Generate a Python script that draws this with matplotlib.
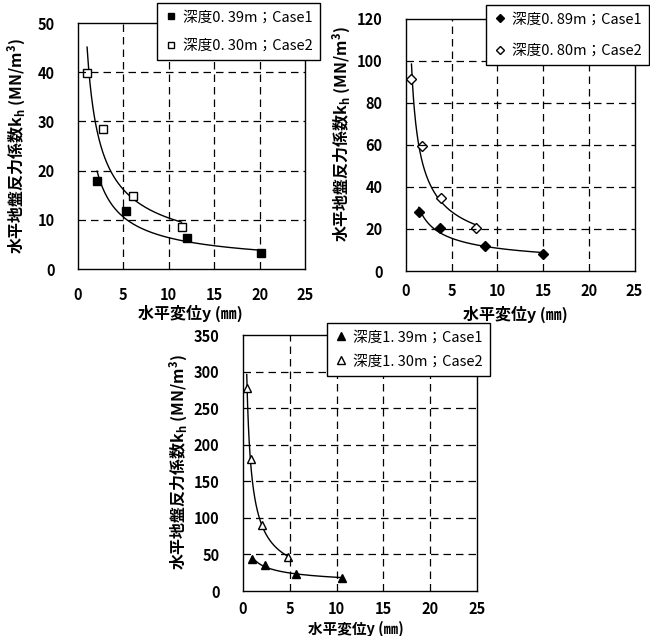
import numpy as np
import matplotlib
matplotlib.use("Agg")
import matplotlib.pyplot as plt

plt.rcParams['font.family'] = ['Noto Sans CJK JP', 'DejaVu Sans']
plt.rcParams['mathtext.fontset'] = 'custom'
plt.rcParams['mathtext.rm'] = 'Noto Sans CJK JP'

# depth ~0.3-0.4 m
tl_c1_x = [2.1, 5.3, 12.0, 20.2]
tl_c1_y = [17.8, 11.7, 6.2, 3.3]
tl_c2_x = [1.0, 2.8, 6.1, 11.4]
tl_c2_y = [39.8, 28.5, 14.8, 8.5]

# depth ~0.8-0.9 m
tr_c1_x = [1.4, 3.7, 8.6, 15.0]
tr_c1_y = [28.2, 20.5, 11.8, 8.3]
tr_c2_x = [0.6, 1.7, 3.8, 7.7]
tr_c2_y = [91.3, 59.2, 34.5, 20.3]

# depth ~1.3-1.4 m
bt_c1_x = [1.0, 2.3, 5.7, 10.6]
bt_c1_y = [44, 36, 23.6, 17.7]
bt_c2_x = [0.4, 0.9, 2.0, 4.8]
bt_c2_y = [277, 180, 90, 46]

W, H = 650, 636
fig = plt.figure(figsize=(W / 100, H / 100), dpi=100)


def px_axes(l, t, r, b):
    return fig.add_axes([l / W, 1 - b / H, (r - l) / W, (b - t) / H])


def power_fit(x, y):
    # Excel-style power trendline
    b, ln_a = np.polyfit(np.log(x), np.log(y), 1)
    xs = np.linspace(min(x), max(x), 200)
    return xs, np.exp(ln_a) * xs ** b


def draw_panel(ax, c1, c2, marker, ms, labels, ymax, ystep, leg_anchor,
               lspace, xpad):
    for (x, y), filled, lab in zip([c1, c2], [True, False], labels):
        xs, ys = power_fit(x, y)
        ax.plot(xs, ys, color='black', lw=1.0)
        ax.plot(x, y, linestyle='none', marker=marker, ms=ms,
                mfc='black' if filled else 'white', mec='black', mew=1.0,
                label=lab)
    ax.set_xlim(0, 25)
    ax.set_ylim(0, ymax)
    ax.set_xticks(range(0, 26, 5))
    ax.set_yticks(range(0, ymax + 1, ystep))
    for v in range(5, 25, 5):
        ax.axvline(v, color='black', lw=0.9, ls=(0, (6, 4)))
    for v in range(ystep, ymax, ystep):
        ax.axhline(v, color='black', lw=0.9, ls=(0, (6, 4)))
    ax.tick_params(length=0, labelsize=10.5)
    ax.tick_params(axis='x', pad=xpad)
    ax.tick_params(axis='y', pad=17)
    for t in ax.get_xticklabels() + ax.get_yticklabels():
        t.set_fontweight('bold')
    for s in ax.spines.values():
        s.set_linewidth(1.0)
    leg = ax.legend(loc='upper right', bbox_to_anchor=leg_anchor,
                    bbox_transform=fig.transFigure, fontsize=10.5,
                    frameon=True, fancybox=False, edgecolor='black',
                    framealpha=1, handletextpad=0.3, handlelength=1.0,
                    borderpad=0.5, labelspacing=lspace, markerscale=0.85,
                    borderaxespad=0)
    leg.get_frame().set_linewidth(1.0)


xlabel = '水平変位y (㎜)'
ylabel = '水平地盤反力係数k$_\\mathregular{h}$ (MN/m$^\\mathregular{3}$)'

ax1 = px_axes(78, 23, 305, 269)
draw_panel(ax1, (tl_c1_x, tl_c1_y), (tl_c2_x, tl_c2_y), 's', 5.5,
           ['深度0. 39m；Case1', '深度0. 30m；Case2'], 50, 10,
           (320 / W, 1 - 3 / H), 1.0, 13)

ax2 = px_axes(406, 18.5, 634.5, 271)
draw_panel(ax2, (tr_c1_x, tr_c1_y), (tr_c2_x, tr_c2_y), 'D', 4.8,
           ['深度0. 89m；Case1', '深度0. 80m；Case2'], 120, 20,
           (649 / W, 1 - 5 / H), 1.2, 9)

ax3 = px_axes(243, 335, 477, 591)
draw_panel(ax3, (bt_c1_x, bt_c1_y), (bt_c2_x, bt_c2_y), '^', 6,
           ['深度1. 39m；Case1', '深度1. 30m；Case2'], 350, 50,
           (490 / W, 1 - 323 / H), 0.7, 7)

for (cx, cy, fs) in [(190, 313, 11.5), (515, 314, 11.5), (356, 629, 10.5)]:
    fig.text(cx / W, 1 - cy / H, xlabel, ha='center', va='center',
             fontsize=fs, fontweight='bold')
for (cx, cy) in [(17, 146), (342, 134), (179, 462)]:
    fig.text(cx / W, 1 - cy / H, ylabel, ha='center', va='center',
             rotation=90, fontsize=11.5, fontweight='bold')

fig.savefig('out.png', dpi=100)
